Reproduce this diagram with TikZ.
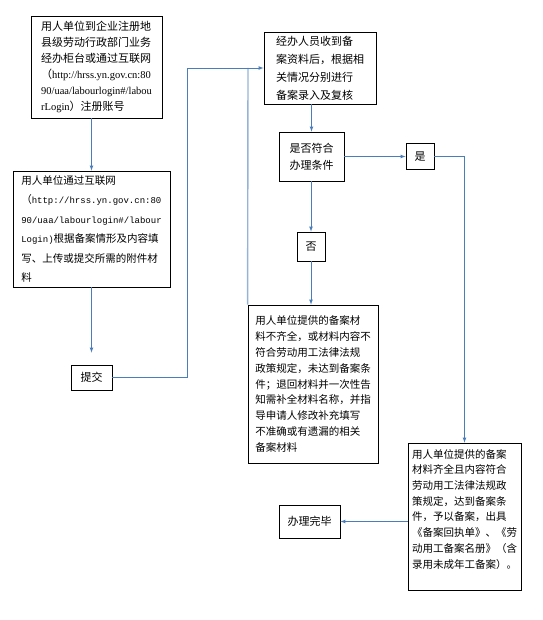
\documentclass[tikz,border=0pt]{standalone}
\usepackage{fontspec}
\setmainfont{Noto Sans CJK SC}
\newfontfamily\urlserif{Liberation Serif}
\newfontfamily\urlmono{Liberation Mono}
\definecolor{flowblue}{RGB}{74,126,187}
\definecolor{paleblue}{RGB}{149,179,215}
\tikzset{>=latex}
\tikzset{
  box/.style = {draw, line width=0.8pt, align=left, inner sep=0pt,
    font=\fontsize{11}{16}\selectfont},
  flow/.style = {->, flowblue, line width=0.7pt},
  side/.style = {paleblue, line width=1.4pt}
}
\newcommand{\weburl}[1]{{\urlserif\fontsize{10.5}{16}\selectfont #1}}
\newcommand{\webmono}[1]{{\urlmono\fontsize{9}{19.5}\selectfont #1}}

\begin{document}
\begin{tikzpicture}[x=1pt, y=-1pt]
  \useasboundingbox (0,0) rectangle (542,620);
  % left column
  \node[box, minimum width=131pt, minimum height=102pt] (reg) at (96.5,67)
    {用人单位到企业注册地\\县级劳动行政部门业务\\经办柜台或通过互联网\\（\weburl{http://hrss.yn.gov.cn:80}\\\weburl{90/uaa/labourlogin\#/labou}\\\weburl{rLogin}）注册账号};
  \node[box, minimum width=157pt, minimum height=116pt, font=\fontsize{10.5}{19.5}\selectfont] (fill) at (91.5,229)
    {用人单位通过互联网\\（\webmono{http://hrss.yn.gov.cn:80}\\\webmono{90/uaa/labourlogin\#/labour}\\\webmono{Login)}根据备案情形及内容填\\写、上传或提交所需的附件材\\料};
  \node[box, minimum width=41pt, minimum height=25pt] (submit) at (91.5,377.5) {提交};
  % right part
  \node[box, minimum width=112pt, minimum height=72pt, font=\fontsize{11}{18}\selectfont] (review) at (320,68)
    {经办人员收到备\\案资料后，根据相\\关情况分别进行\\备案录入及复核};
  \node[box, minimum width=65pt, minimum height=49pt, font=\fontsize{11}{17}\selectfont] (check) at (311.5,156.5)
    {是否符合\\办理条件};
  \node[box, minimum width=28pt, minimum height=26pt] (yes) at (420,156.5) {是};
  \node[box, minimum width=28pt, minimum height=29pt] (no) at (311,246.5) {否};
  \node[box, minimum width=130pt, minimum height=158pt, font=\fontsize{10.5}{15.8}\selectfont] (reject) at (313,384)
    {用人单位提供的备案材\\料不齐全，或材料内容不\\符合劳动用工法律法规\\政策规定，未达到备案条\\件；退回材料并一次性告\\知需补全材料名称，并指\\导申请人修改补充填写\\不准确或有遗漏的相关\\备案材料};
  \node[box, minimum width=113pt, minimum height=147pt, font=\fontsize{10.5}{15.7}\selectfont] (accept) at (464.5,516.5)
    {用人单位提供的备案\\材料齐全且内容符合\\劳动用工法律法规政\\策规定，达到备案条\\件，予以备案，出具\\《备案回执单》、《劳\\动用工备案名册》（含\\录用未成年工备案）。\\\mbox{}};
  \node[box, minimum width=61pt, minimum height=33pt] (done) at (309.5,521.5) {办理完毕};
  \coordinate (turn) at (248,68);
  % arrows
  \draw[side] (turn) -- (reject.north west);
  \draw[flow] (fill.north |- reg.south) -- (fill.north);
  \draw[flow, shorten >=12pt] (fill.south) -- (submit.north);
  \draw[flow] (submit.east) -- ++(75,0) |- (review.west);
  \draw[flow] (check.north |- review.south) -- (check.north);
  \draw[flow] (check.east) -- (yes.west);
  \draw[flow] (yes.east) -| (accept.north);
  \draw[flow] (no.north |- check.south) -- (no.north);
  \draw[flow] (no.south) -- (reject.north -| no.south);
  \draw[flow] (done.east -| accept.west) -- (done.east);
\end{tikzpicture}
\end{document}
